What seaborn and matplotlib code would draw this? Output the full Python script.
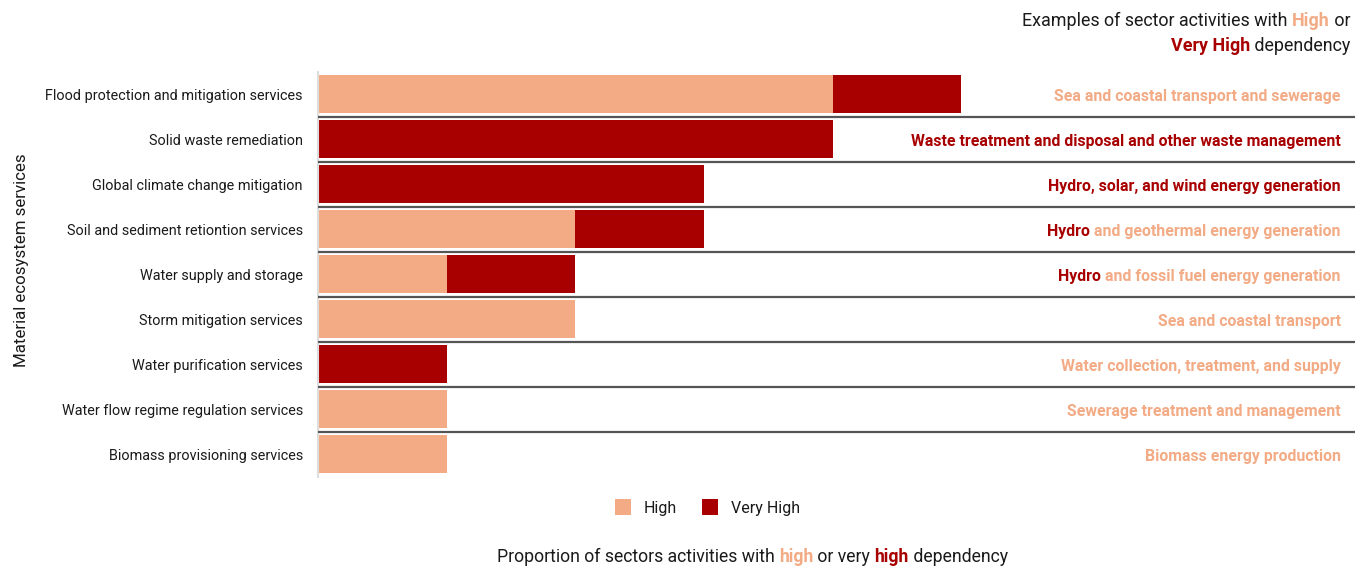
import matplotlib
matplotlib.use("Agg")
import matplotlib.pyplot as plt
import seaborn as sns
import pandas as pd
from matplotlib.patches import Patch
from matplotlib.offsetbox import TextArea, HPacker, VPacker, AnnotationBbox

services = [
    "Flood protection and mitigation services",
    "Solid waste remediation",
    "Global climate change mitigation",
    "Soil and sediment retiontion services",
    "Water supply and storage",
    "Storm mitigation services",
    "Water purification services",
    "Water flow regime regulation services",
    "Biomass provisioning services",
]
high = [4, 0, 0, 2, 1, 2, 0, 1, 1]
very_high = [1, 4, 3, 1, 1, 0, 1, 0, 0]
# examples: list of (text, level) segments; level 'H' or 'VH'
examples = [
    [("Sea and coastal transport and sewerage", "H")],
    [("Waste treatment and disposal and other waste management", "VH")],
    [("Hydro, solar, and wind energy generation", "VH")],
    [("Hydro", "VH"), (" and geothermal energy generation", "H")],
    [("Hydro", "VH"), (" and fossil fuel energy generation", "H")],
    [("Sea and coastal transport", "H")],
    [("Water collection, treatment, and supply", "H")],
    [("Sewerage treatment and management", "H")],
    [("Biomass energy production", "H")],
]

LIGHT = "#f2ab85"
DARK = "#a80000"
TXT = "#1a1a1a"

sns.set_theme(style="white")
plt.rcParams["font.family"] = ["Roboto", "DejaVu Sans"]

df = pd.DataFrame({"service": services, "High": high, "Very High": very_high})
df["Total"] = df["High"] + df["Very High"]

fig = plt.figure(figsize=(13.68, 5.68), dpi=100)
ax = fig.add_axes([0.2325, 0.161, 0.758, 0.713])

sns.barplot(data=df, y="service", x="Total", orient="h", color=DARK,
            width=0.84, ax=ax, saturation=1, linewidth=0)
sns.barplot(data=df, y="service", x="High", orient="h", color=LIGHT,
            width=0.84, ax=ax, saturation=1, linewidth=0)

ax.set_xlim(0, 8.06)
ax.set_ylim(len(services) - 0.5, -0.5)
for i in range(len(services) - 1):
    ax.axhline(i + 0.5, color="#555555", lw=1.6, zorder=3)

for s in ["top", "right", "bottom"]:
    ax.spines[s].set_visible(False)
ax.spines["left"].set_color("#dddddd")
ax.spines["left"].set_linewidth(1.5)
ax.set_xticks([])
ax.set_xlabel("")
ax.set_ylabel("Material ecosystem services", fontsize=12.2, color=TXT)
ax.yaxis.set_label_coords(-0.279, 0.535)
ax.tick_params(axis="y", length=0, pad=11, labelsize=10.4, labelcolor=TXT)

# right-side examples
for i, segs in enumerate(examples):
    areas = []
    for text, lvl in segs:
        areas.append(TextArea(text, textprops=dict(
            color=LIGHT if lvl == "H" else DARK, fontsize=11.4,
            fontweight="bold", family=["Roboto", "DejaVu Sans"])))
    box = HPacker(children=areas, pad=0, sep=0, align="baseline")
    ab = AnnotationBbox(box, (7.95, i + 0.06), xycoords="data", box_alignment=(1, 0.5),
                        frameon=False, pad=0)
    ax.add_artist(ab)

# title (top right)
tp = dict(fontsize=12.9, color=TXT, family=["Roboto", "DejaVu Sans"])
line1 = HPacker(children=[
    TextArea("Examples of sector activities with ", textprops=tp),
    TextArea("High", textprops=dict(tp, color=LIGHT, fontweight="bold")),
    TextArea(" or", textprops=tp)], pad=0, sep=0, align="baseline")
line2 = HPacker(children=[
    TextArea("Very High", textprops=dict(tp, color=DARK, fontweight="bold")),
    TextArea(" dependency", textprops=tp)], pad=0, sep=0, align="baseline")
title = VPacker(children=[line1, line2], pad=0, sep=5, align="right")
fig.add_artist(AnnotationBbox(title, (0.987, 0.941), xycoords="figure fraction",
                              box_alignment=(1, 0.5), frameon=False, pad=0))

# bottom label
bp = dict(fontsize=12.7, color=TXT, family=["Roboto", "DejaVu Sans"])
bottom = HPacker(children=[
    TextArea("Proportion of sectors activities with ", textprops=bp),
    TextArea("high", textprops=dict(bp, color=LIGHT, fontweight="bold")),
    TextArea(" or very ", textprops=bp),
    TextArea("high", textprops=dict(bp, color=DARK, fontweight="bold")),
    TextArea(" dependency", textprops=bp)], pad=0, sep=0, align="baseline")
fig.add_artist(AnnotationBbox(bottom, (0.550, 0.019), xycoords="figure fraction",
                              box_alignment=(0.5, 0.5), frameon=False, pad=0))

# legend
handles = [Patch(facecolor=LIGHT, edgecolor="none", label="High"),
           Patch(facecolor=DARK, edgecolor="none", label="Very High")]
fig.legend(handles=handles, loc="center", bbox_to_anchor=(0.517, 0.107), ncol=2,
           frameon=False, fontsize=11.5, handlelength=1.0, handleheight=1.2,
           handletextpad=0.8, columnspacing=1.6, labelcolor=TXT)

fig.savefig("out.png", dpi=100)
